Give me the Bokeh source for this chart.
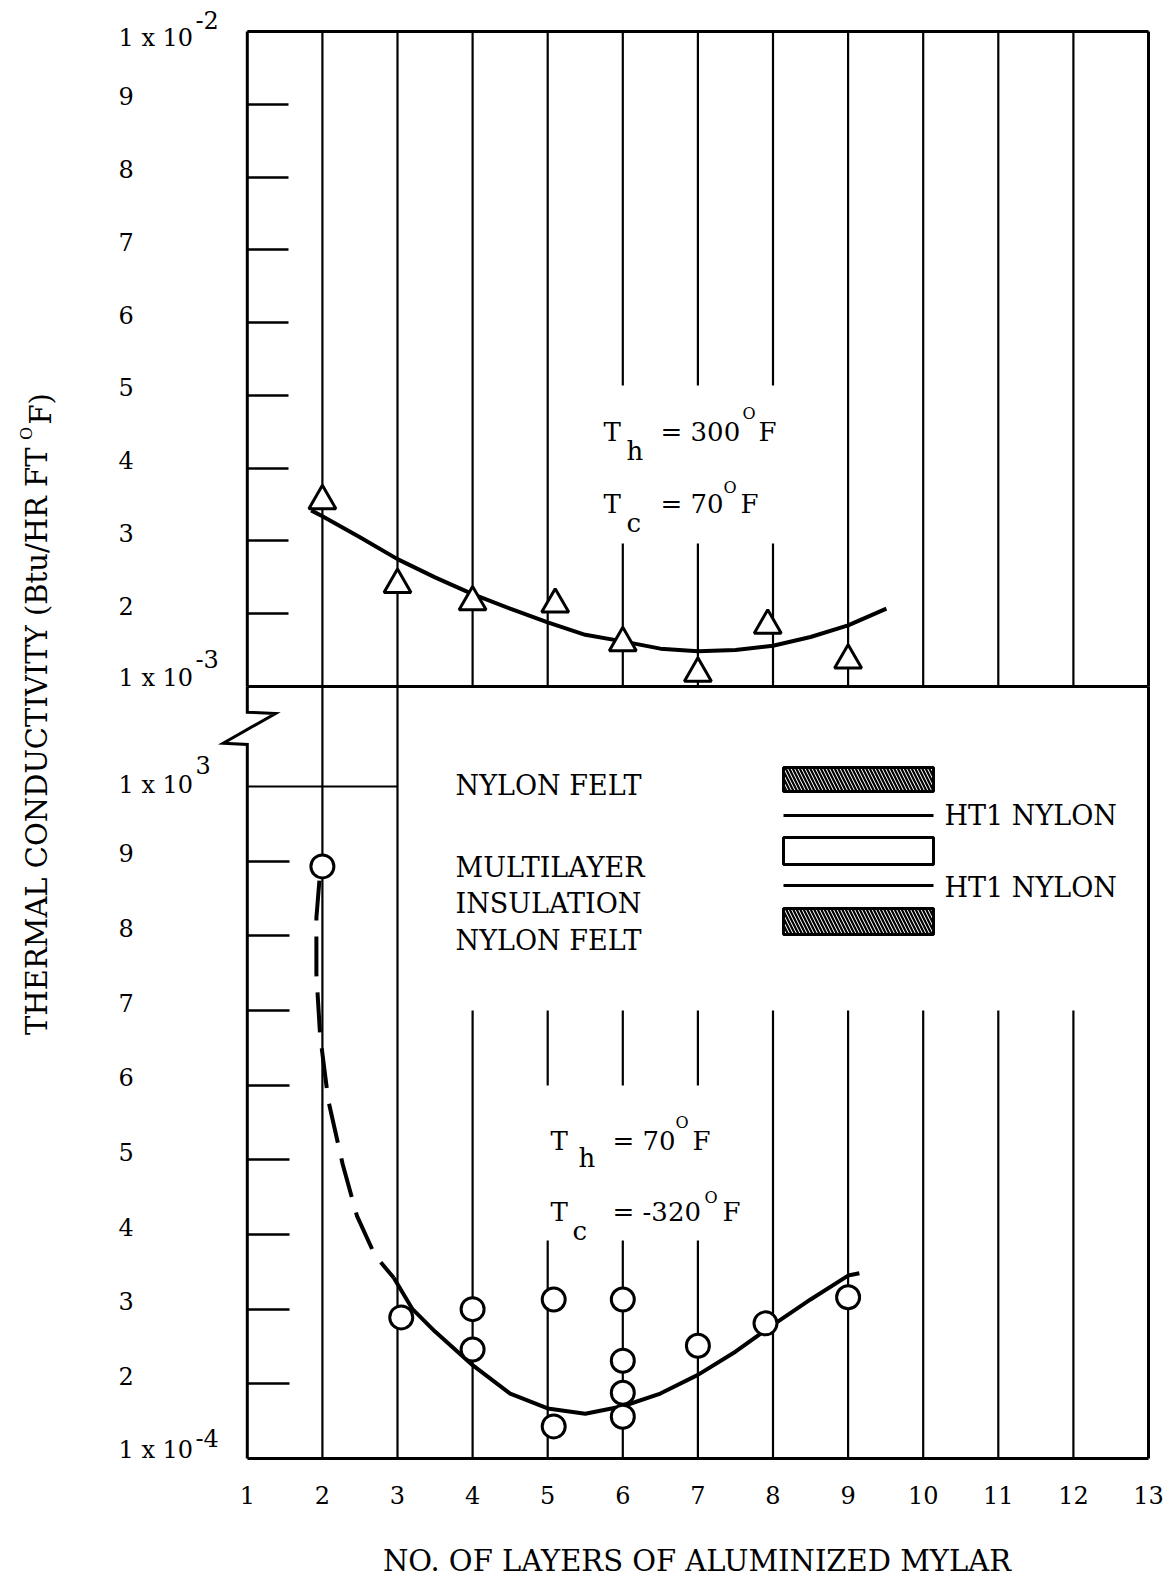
import math
from bokeh.plotting import figure
from bokeh.models import (Range1d, LinearAxis, FixedTicker, Label, LabelSet, ColumnDataSource,
                          CustomJSTickFormatter)
from bokeh.core.properties import value
from bokeh.embed import file_html
from bokeh.resources import INLINE

# ---------------- data ----------------
layer_ticks = [1, 2, 3, 4, 5, 6, 7, 8, 9, 10, 11, 12, 13]
layer_tick_labels = [str(t) for t in layer_ticks]

upper_tick_values = [1e-3, 2e-3, 3e-3, 4e-3, 5e-3, 6e-3, 7e-3, 8e-3, 9e-3, 1e-2]
upper_tick_labels = ["1 x 10", "2", "3", "4", "5", "6", "7", "8", "9", "1 x 10"]
upper_tick_exponents = ["-3", "", "", "", "", "", "", "", "", "-2"]

lower_tick_values = [1e-4, 2e-4, 3e-4, 4e-4, 5e-4, 6e-4, 7e-4, 8e-4, 9e-4, 1e-3]
lower_tick_labels = ["1 x 10", "2", "3", "4", "5", "6", "7", "8", "9", "1 x 10"]
lower_tick_exponents = ["-4", "", "", "", "", "", "", "", "", "3"]

# Th = 300 F, Tc = 70 F  (triangles)
upper_layers = [2, 3, 4, 5.1, 6, 7, 7.93, 9]
upper_k = [3.55e-3, 2.40e-3, 2.16e-3, 2.13e-3, 1.60e-3, 1.18e-3, 1.84e-3, 1.36e-3]
upper_fit_layers = [1.85, 2, 2.5, 3, 3.5, 4, 4.5, 5, 5.5, 6, 6.5, 7, 7.5, 8, 8.5, 9, 9.51]
upper_fit_k = [3.42e-3, 3.34e-3, 3.05e-3, 2.75e-3, 2.50e-3, 2.27e-3, 2.07e-3, 1.88e-3,
               1.71e-3, 1.62e-3, 1.52e-3, 1.485e-3, 1.50e-3, 1.56e-3, 1.68e-3, 1.84e-3, 2.07e-3]

# Th = 70 F, Tc = -320 F  (circles)
lower_layers = [2, 3.05, 4, 4, 5.08, 5.08, 6, 6, 6, 6, 7, 7.9, 9]
lower_k = [8.93e-4, 2.89e-4, 3.00e-4, 2.46e-4, 3.13e-4, 1.43e-4, 3.13e-4, 2.31e-4,
           1.88e-4, 1.56e-4, 2.51e-4, 2.81e-4, 3.16e-4]
lower_dashed_layers = [1.96, 1.92, 1.92, 1.97, 2.08, 2.27, 2.46, 2.70, 2.95]
lower_dashed_k = [8.74e-4, 8.24e-4, 7.49e-4, 6.66e-4, 5.79e-4, 4.94e-4, 4.25e-4, 3.72e-4, 3.42e-4]
lower_fit_layers = [2.95, 3.2, 3.5, 4, 4.5, 5, 5.5, 6, 6.5, 7, 7.5, 8, 8.5, 9, 9.15]
lower_fit_k = [3.42e-4, 3.00e-4, 2.70e-4, 2.25e-4, 1.87e-4, 1.67e-4, 1.60e-4, 1.70e-4,
               1.87e-4, 2.12e-4, 2.43e-4, 2.79e-4, 3.13e-4, 3.45e-4, 3.48e-4]

upper_grid_layers = [2, 3, 4, 5, 6, 7, 8, 9, 10, 11, 12]
lower_full_grid_layers = [2, 3]
lower_short_grid_layers = [4, 5, 6, 7, 8, 9, 10, 11, 12]
lower_short_grid_top = 7e-4

# ---------------- layout (pixel geometry of the page) ----------------
W, H = 1168, 1579
PX_X1, PX_X13 = 246.8, 1148.0
KX = (PX_X13 - PX_X1) / 12.0
PX_U_TOP, PX_U_BOT = 31.0, 686.0      # 1e-2 and 1e-3 of the upper panel
KU = (PX_U_BOT - PX_U_TOP) / 9.0
PX_L_TOP, PX_L_BOT = 786.0, 1458.0    # 1e-3 and 1e-4 of the lower panel
KL = (PX_L_BOT - PX_L_TOP) / 9.0


def X(px):
    return 1.0 + (px - PX_X1) / KX


def YU(py):
    return (1.0 + (PX_U_BOT - py) / KU) * 1e-3


def YL(py):
    return (1.0 + (PX_L_BOT - py) / KL) * 1e-4


FRAME_L, FRAME_R, FRAME_T, FRAME_B = 12, 1168, 0, 1575
FONT = "DejaVu Serif"
INK = "black"

p = figure(width=W, height=H,
           x_range=Range1d(X(FRAME_L), X(FRAME_R)),
           y_range=Range1d(YL(FRAME_B), YL(FRAME_T)),
           output_backend="svg", toolbar_location=None,
           min_border_left=FRAME_L, min_border_right=W - FRAME_R,
           min_border_top=FRAME_T, min_border_bottom=H - FRAME_B,
           background_fill_color="white", border_fill_color="white",
           outline_line_color=None)
p.extra_y_ranges = {"upper": Range1d(YU(FRAME_B), YU(FRAME_T))}
p.grid.visible = False

# ---- axes (lines and inward ticks; labels are drawn as label sets) ----
xa = p.xaxis[0]
xa.ticker = FixedTicker(ticks=layer_ticks)
xa.formatter = CustomJSTickFormatter(code="return ''")
xa.fixed_location = 1e-4
xa.bounds = (1, 13)
xa.axis_line_width = 3
xa.axis_line_color = INK
xa.major_tick_in = 0
xa.major_tick_out = 0
xa.minor_tick_in = 0
xa.minor_tick_out = 0
xa.major_label_standoff = 0
xa.major_label_text_font_size = "0px"

ly = p.yaxis[0]
ly.ticker = FixedTicker(ticks=lower_tick_values[1:-1])
ly.formatter = CustomJSTickFormatter(code="return ''")
ly.fixed_location = 1
ly.axis_line_color = None
ly.major_tick_in = 42
ly.major_tick_out = 0
ly.minor_tick_in = 0
ly.minor_tick_out = 0
ly.major_label_standoff = 0
ly.major_tick_line_width = 2.5
ly.major_tick_line_color = INK

uy = LinearAxis(y_range_name="upper", ticker=FixedTicker(ticks=upper_tick_values[1:-1]),
                formatter=CustomJSTickFormatter(code="return ''"),
                fixed_location=1, axis_line_color=None, major_tick_in=41, major_tick_out=0,
                minor_tick_in=0, minor_tick_out=0, major_tick_line_width=2.5,
                major_label_standoff=0, major_tick_line_color=INK)
p.add_layout(uy, "left")

# ---- grid lines and frame ----
n = len(upper_grid_layers)
p.segment(x0=upper_grid_layers, y0=[upper_tick_values[0]] * n, x1=upper_grid_layers,
          y1=[upper_tick_values[-1]] * n, y_range_name="upper", line_color=INK, line_width=2.2)
m = len(lower_full_grid_layers)
p.segment(x0=lower_full_grid_layers, y0=[lower_tick_values[0]] * m, x1=lower_full_grid_layers,
          y1=[YL(PX_U_BOT)] * m, line_color=INK, line_width=2.2)
k = len(lower_short_grid_layers)
p.segment(x0=lower_short_grid_layers, y0=[lower_tick_values[0]] * k, x1=lower_short_grid_layers,
          y1=[lower_short_grid_top] * k, line_color=INK, line_width=2.2)

# white backgrounds of the condition texts (grid lines are broken there)
p.quad(left=[5.55], right=[8.2], bottom=[YU(543)], top=[YU(385)], y_range_name="upper",
       fill_color="white", line_color=None)
p.quad(left=[4.6], right=[7.6], bottom=[YL(1240)], top=[YL(1085)],
       fill_color="white", line_color=None)

# top border, divider, right border, left borders
p.segment(x0=[1, 1], y0=[1e-2, 1e-3], x1=[13, 13], y1=[1e-2, 1e-3], y_range_name="upper",
          line_color=INK, line_width=3)
p.segment(x0=[13, 1], y0=[1e-3, 1e-3], x1=[13, 1], y1=[1e-2, 1e-2], y_range_name="upper",
          line_color=INK, line_width=3)
p.segment(x0=[13], y0=[1e-4], x1=[13], y1=[YL(PX_U_BOT)], line_color=INK, line_width=3)
p.line(x=[1, 1, X(275), X(222.7), 1, 1],
       y=[YL(PX_U_BOT), YL(711.7), YL(713), YL(742.7), YL(744), 1e-4],
       line_color=INK, line_width=3, line_join="miter")
p.segment(x0=[1], y0=[1e-3], x1=[3], y1=[1e-3], line_color=INK, line_width=2.2)

# ---- curves and points ----
p.line(upper_fit_layers, upper_fit_k, y_range_name="upper", line_color=INK, line_width=4)
p.line(lower_dashed_layers, lower_dashed_k, line_color=INK, line_width=4, line_dash="40 16")
p.line(lower_fit_layers, lower_fit_k, line_color=INK, line_width=4)
p.scatter(upper_layers, upper_k, marker="triangle", size=27, fill_color="white",
          line_color=INK, line_width=3, y_range_name="upper")
p.scatter(lower_layers, lower_k, marker="circle", size=23, fill_color="white",
          line_color=INK, line_width=3)

# ---- x tick labels ----
src_x = ColumnDataSource(dict(x=layer_ticks, y=[lower_tick_values[0]] * len(layer_ticks),
                              text=layer_tick_labels))
p.add_layout(LabelSet(x="x", y="y", text="text", source=src_x, y_offset=-45,
                      text_align="center", text_baseline="alphabetic", text_font=value(FONT),
                      text_font_size="24px", text_color=INK))

# ---- y tick labels ----
LBL_DX = 118 - PX_X1
SUP_DX = 195 - PX_X1
u_dy = [1] + [-1] * 8 + [-14]
l_dy = [1] + [-1] * 8 + [-6]
src_u = ColumnDataSource(dict(x=[1] * len(upper_tick_values), y=upper_tick_values,
                              text=upper_tick_labels, dy=u_dy))
src_l = ColumnDataSource(dict(x=[1] * len(lower_tick_values), y=lower_tick_values,
                              text=lower_tick_labels, dy=l_dy))
for src, rn in ((src_u, "upper"), (src_l, "default")):
    p.add_layout(LabelSet(x="x", y="y", text="text", source=src, y_range_name=rn,
                          x_offset=LBL_DX, y_offset="dy", text_align="left",
                          text_baseline="alphabetic", text_font=value(FONT),
                          text_font_size="24px", text_color=INK))

sup_u = [(v, e) for v, e in zip(upper_tick_values, upper_tick_exponents) if e]
sup_l = [(v, e) for v, e in zip(lower_tick_values, lower_tick_exponents) if e]
src_su = ColumnDataSource(dict(x=[1] * len(sup_u), y=[v for v, _ in sup_u],
                               text=[e for _, e in sup_u], dy=[19, 3]))
src_sl = ColumnDataSource(dict(x=[1] * len(sup_l), y=[v for v, _ in sup_l],
                               text=[e for _, e in sup_l], dy=[12, 13]))
for src, rn in ((src_su, "upper"), (src_sl, "default")):
    p.add_layout(LabelSet(x="x", y="y", text="text", source=src, y_range_name=rn,
                          x_offset=SUP_DX, y_offset="dy", text_align="left",
                          text_baseline="alphabetic", text_font=value(FONT),
                          text_font_size="24px", text_color=INK))

# ---- condition texts ----
def put(texts, rn, size):
    xs = [X(t[0]) for t in texts]
    if rn == "upper":
        ys = [YU(t[1]) for t in texts]
    else:
        ys = [YL(t[1]) for t in texts]
    kw = dict(y_range_name=rn) if rn == "upper" else {}
    p.text(x=xs, y=ys, text=[t[2] for t in texts], text_font=value(FONT),
           text_font_size=size, text_align="left", text_baseline="alphabetic",
           text_color=INK, **kw)

put([(603, 431.7, "T"), (626, 450, "h"), (660, 431.7, "= 300"), (758, 431.7, "F"),
     (603, 503, "T"), (626, 522, "c"), (660, 503, "= 70"), (740, 503, "F")], "upper", "26px")
put([(742, 413, "O"), (723, 487, "O")], "upper", "16px")
put([(550, 1140, "T"), (578, 1157, "h"), (612, 1140, "= 70"), (692, 1140, "F"),
     (550, 1211.7, "T"), (572, 1230, "c"), (612, 1211.7, "= -320"), (722, 1211.7, "F")],
    "lower", "26px")
put([(675, 1122, "O"), (704, 1197, "O")], "lower", "16px")

# ---- layer build-up sketch ----
put([(455, 785, "NYLON FELT"), (455, 867, "MULTILAYER"), (455, 903, "INSULATION"),
     (455, 940, "NYLON FELT"), (944, 815, "HT1 NYLON"), (944, 887, "HT1 NYLON")],
    "lower", "27px")
p.quad(left=[X(783), X(783)], right=[X(933), X(933)], bottom=[YL(791), YL(934)],
       top=[YL(767), YL(908)], fill_color="white", hatch_pattern="\\", hatch_color=INK,
       hatch_scale=7, hatch_weight=2.2, line_color=INK, line_width=3)
p.quad(left=[X(783)], right=[X(933)], bottom=[YL(864)], top=[YL(837)],
       fill_color="white", line_color=INK, line_width=3)
p.segment(x0=[X(783), X(783)], y0=[YL(815), YL(885)], x1=[X(933), X(933)],
          y1=[YL(815), YL(885)], line_color=INK, line_width=3)

# ---- axis titles ----
p.add_layout(Label(x=X(696.5), y=1e-4, y_offset=-(1560 - PX_L_BOT),
                   text="NO. OF LAYERS OF ALUMINIZED MYLAR", text_align="center",
                   text_baseline="middle", text_font=FONT, text_font_size="29px",
                   text_color=INK))
p.add_layout(Label(x=1, x_offset=36 - PX_X1, y=YL(447), angle=math.pi / 2,
                   text="THERMAL CONDUCTIVITY (Btu/HR FT", text_align="right",
                   text_baseline="middle", text_font=FONT, text_font_size="29px",
                   text_color=INK))
p.add_layout(Label(x=1, x_offset=26 - PX_X1, y=YL(433), angle=math.pi / 2, text="O",
                   text_align="center", text_baseline="middle", text_font=FONT,
                   text_font_size="16px", text_color=INK))
p.add_layout(Label(x=1, x_offset=40 - PX_X1, y=YL(424), angle=math.pi / 2, text="F)",
                   text_align="left", text_baseline="middle", text_font=FONT,
                   text_font_size="29px", text_color=INK))

open("out.html", "w").write(file_html(p, INLINE))
